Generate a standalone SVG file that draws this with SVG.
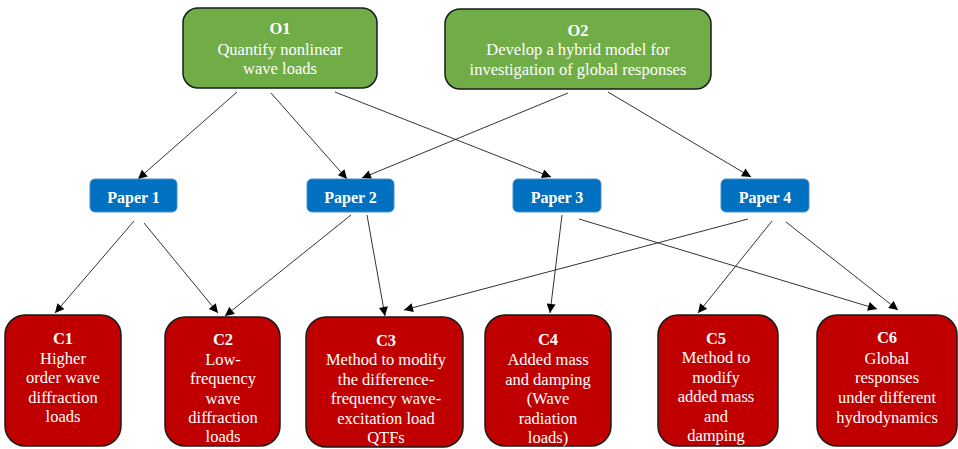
<svg xmlns="http://www.w3.org/2000/svg" width="958" height="449" viewBox="0 0 958 449">
<style>
.obj rect{fill:#70AD47;stroke:#1a1a1a;stroke-width:1.5}
.pap rect{fill:#0070C0;stroke:#4a8fcc;stroke-width:1}
.con rect{fill:#C00000;stroke:#1a1a1a;stroke-width:1.5}
.t text{fill:#fff;text-anchor:middle;font-size:16.5px}
.b{font-weight:bold}
.pap text{font-weight:bold;font-size:16px}
#edges line{stroke:#333;stroke-width:1;marker-end:url(#ah)}
</style>
<defs>
<marker id="ah" viewBox="0 0 10 10" refX="10" refY="5" markerWidth="10" markerHeight="9" markerUnits="userSpaceOnUse" orient="auto">
<path d="M0,0 L10,5 L0,10 z" fill="#000"/>
</marker>
</defs>
<rect width="958" height="449" fill="#fff"/>
<g id="edges">
<line x1="237" y1="92" x2="138" y2="179"/>
<line x1="271" y1="93" x2="347" y2="179"/>
<line x1="335" y1="92" x2="551" y2="177"/>
<line x1="568" y1="93" x2="362" y2="178"/>
<line x1="608" y1="92" x2="751" y2="177"/>
<line x1="134" y1="221" x2="55" y2="313"/>
<line x1="144" y1="223" x2="218" y2="313"/>
<line x1="351" y1="215" x2="225" y2="316"/>
<line x1="367" y1="215" x2="385" y2="316"/>
<line x1="562" y1="215" x2="550" y2="313"/>
<line x1="579" y1="219" x2="877" y2="309"/>
<line x1="748" y1="219" x2="404" y2="310"/>
<line x1="772" y1="221" x2="698" y2="313"/>
<line x1="786" y1="222" x2="898" y2="310"/>
</g>
<g class="t" font-family="'Liberation Serif', 'DejaVu Serif', 'Times New Roman', serif">
<g id="O1" class="obj">
<rect x="183" y="8" width="194" height="80" rx="15"/>
<text x="280" y="34" class="b">O1</text>
<text x="280" y="55">Quantify nonlinear</text>
<text x="280" y="74">wave loads</text>
</g>
<g id="O2" class="obj">
<rect x="445" y="9" width="266" height="80" rx="15"/>
<text x="578" y="36" class="b">O2</text>
<text x="578" y="55">Develop a hybrid model for</text>
<text x="578" y="75">investigation of global responses</text>
</g>
<g id="P1" class="pap">
<rect x="90" y="179" width="87" height="33" rx="5"/>
<text x="133.5" y="203">Paper 1</text>
</g>
<g id="P2" class="pap">
<rect x="307" y="179" width="87" height="33" rx="5"/>
<text x="350.5" y="203">Paper 2</text>
</g>
<g id="P3" class="pap">
<rect x="513" y="179" width="88" height="33" rx="5"/>
<text x="557" y="203">Paper 3</text>
</g>
<g id="P4" class="pap">
<rect x="721" y="179" width="88" height="33" rx="5"/>
<text x="765" y="203">Paper 4</text>
</g>
<g id="C1" class="con">
<rect x="5" y="315" width="116" height="131" rx="20"/>
<text x="63" y="344" class="b">C1</text>
<text x="63" y="364">Higher</text>
<text x="63" y="383">order wave</text>
<text x="63" y="403">diffraction</text>
<text x="63" y="422">loads</text>
</g>
<g id="C2" class="con">
<rect x="165" y="317" width="115" height="129" rx="20"/>
<text x="223" y="345" class="b">C2</text>
<text x="223" y="365">Low-</text>
<text x="223" y="384">frequency</text>
<text x="223" y="404">wave</text>
<text x="223" y="423">diffraction</text>
<text x="223" y="442">loads</text>
</g>
<g id="C3" class="con">
<rect x="306" y="317" width="157" height="130" rx="20"/>
<text x="386" y="346" class="b">C3</text>
<text x="386" y="365">Method to modify</text>
<text x="386" y="385">the difference-</text>
<text x="386" y="404">frequency wave-</text>
<text x="386" y="424">excitation load</text>
<text x="386" y="443">QTFs</text>
</g>
<g id="C4" class="con">
<rect x="485" y="315" width="126" height="131" rx="20"/>
<text x="548" y="345" class="b">C4</text>
<text x="548" y="365">Added mass</text>
<text x="548" y="385">and damping</text>
<text x="548" y="404">(Wave</text>
<text x="548" y="424">radiation</text>
<text x="548" y="443">loads)</text>
</g>
<g id="C5" class="con">
<rect x="658" y="315" width="120" height="131" rx="20"/>
<text x="716" y="344" class="b">C5</text>
<text x="716" y="363">Method to</text>
<text x="716" y="383">modify</text>
<text x="716" y="402">added mass</text>
<text x="716" y="422">and</text>
<text x="716" y="441">damping</text>
</g>
<g id="C6" class="con">
<rect x="817" y="315" width="140" height="131" rx="20"/>
<text x="887" y="343" class="b">C6</text>
<text x="887" y="364">Global</text>
<text x="887" y="383">responses</text>
<text x="887" y="403">under different</text>
<text x="887" y="423">hydrodynamics</text>
</g>
</g>
</svg>
